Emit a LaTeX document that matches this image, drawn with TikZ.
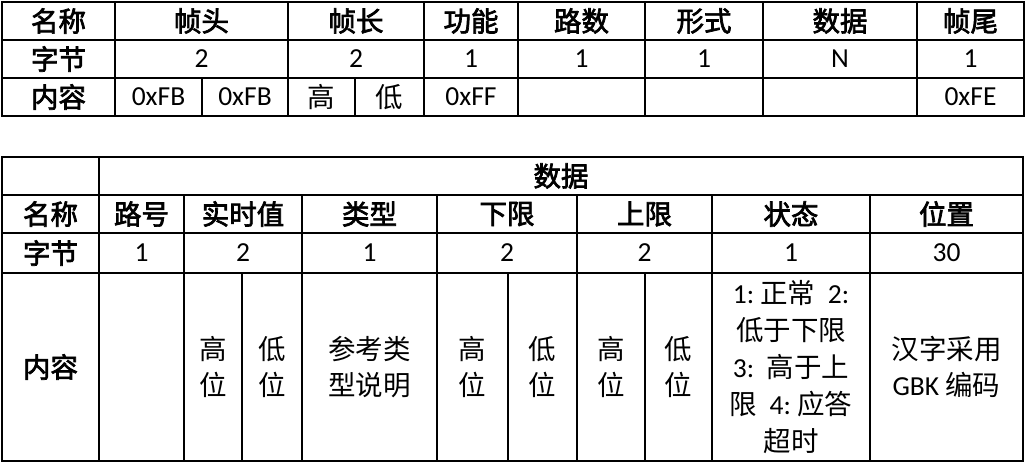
\documentclass[tikz,border=0pt]{standalone}
\usepackage{fontspec}
\setmainfont{Carlito}
\newfontfamily\cjk{Noto Sans CJK SC}
\newfontfamily\cjkb[FakeBold=2.5]{Noto Sans CJK SC}
\newcommand\zh[1]{{\cjk #1}}
\newcommand\zhb[1]{{\cjkb #1}}
\tikzset{
    cell/.style={draw, rectangle, line width=1.2pt, inner sep=0pt, outer sep=0pt,
        align=center, font=\fontsize{27.5}{36}\selectfont},
    toprow/.style={cell, minimum height=38pt},
    datarow/.style={cell, minimum height=40pt},
    bigrow/.style={cell, minimum height=188pt}
}
\begin{document}
\begin{tikzpicture}[x=1pt, y=-1pt]
    \useasboundingbox (0,0) rectangle (1026,462);

    % frame table
    \node[toprow, minimum width=113pt](fname) at (58.5,21) {\zhb{名称}};
    \node[toprow, minimum width=173pt](fhead) at (201.5,21) {\zhb{帧头}};
    \node[toprow, minimum width=136pt](flen) at (356,21) {\zhb{帧长}};
    \node[toprow, minimum width=94pt](ffunc) at (471,21) {\zhb{功能}};
    \node[toprow, minimum width=127pt](froute) at (581.5,21) {\zhb{路数}};
    \node[toprow, minimum width=118pt](fform) at (704,21) {\zhb{形式}};
    \node[toprow, minimum width=154pt](fdata) at (840,21) {\zhb{数据}};
    \node[toprow, minimum width=107pt](ftail) at (970.5,21) {\zhb{帧尾}};

    \node[toprow, minimum width=113pt](fbyte) at (58.5,59) {\zhb{字节}};
    \node[toprow, minimum width=173pt](fheadn) at (201.5,59) {2};
    \node[toprow, minimum width=136pt](flenn) at (356,59) {2};
    \node[toprow, minimum width=94pt](ffuncn) at (471,59) {1};
    \node[toprow, minimum width=127pt](frouten) at (581.5,59) {1};
    \node[toprow, minimum width=118pt](fformn) at (704,59) {1};
    \node[toprow, minimum width=154pt](fdatan) at (840,59) {N};
    \node[toprow, minimum width=107pt](ftailn) at (970.5,59) {1};

    \node[toprow, minimum width=113pt](fcont) at (58.5,97) {\zhb{内容}};
    \node[toprow, minimum width=87pt](fheada) at (158.5,97) {0xFB};
    \node[toprow, minimum width=86pt](fheadb) at (245,97) {0xFB};
    \node[toprow, minimum width=67pt](flenhi) at (321.5,97) {\zh{高}};
    \node[toprow, minimum width=69pt](flenlo) at (389.5,97) {\zh{低}};
    \node[toprow, minimum width=94pt](ffuncv) at (471,97) {0xFF};
    \node[toprow, minimum width=127pt](froutev) at (581.5,97) {};
    \node[toprow, minimum width=118pt](fformv) at (704,97) {};
    \node[toprow, minimum width=154pt](fdatav) at (840,97) {};
    \node[toprow, minimum width=107pt](ftailv) at (970.5,97) {0xFE};

    % data table
    \node[toprow, minimum width=97pt](dcorner) at (50.5,176) {};
    \node[toprow, minimum width=924pt](dtitle) at (561,176) {\zhb{数据}};

    \node[toprow, minimum width=97pt](dname) at (50.5,214) {\zhb{名称}};
    \node[toprow, minimum width=85pt](droute) at (141.5,214) {\zhb{路号}};
    \node[toprow, minimum width=118pt](dvalue) at (243,214) {\zhb{实时值}};
    \node[toprow, minimum width=135pt](dtype) at (369.5,214) {\zhb{类型}};
    \node[toprow, minimum width=140pt](dlow) at (507,214) {\zhb{下限}};
    \node[toprow, minimum width=135pt](dhigh) at (644.5,214) {\zhb{上限}};
    \node[toprow, minimum width=158pt](dstate) at (791,214) {\zhb{状态}};
    \node[toprow, minimum width=153pt](dplace) at (946.5,214) {\zhb{位置}};

    \node[datarow, minimum width=97pt](dbyte) at (50.5,253) {\zhb{字节}};
    \node[datarow, minimum width=85pt](drouten) at (141.5,253) {1};
    \node[datarow, minimum width=118pt](dvaluen) at (243,253) {2};
    \node[datarow, minimum width=135pt](dtypen) at (369.5,253) {1};
    \node[datarow, minimum width=140pt](dlown) at (507,253) {2};
    \node[datarow, minimum width=135pt](dhighn) at (644.5,253) {2};
    \node[datarow, minimum width=158pt](dstaten) at (791,253) {1};
    \node[datarow, minimum width=153pt](dplacen) at (946.5,253) {30};

    \node[bigrow, minimum width=97pt](dcont) at (50.5,367) {\zhb{内容}};
    \node[bigrow, minimum width=85pt](droutev) at (141.5,367) {};
    \node[bigrow, minimum width=58pt](dvaluehi) at (213,367) {\zh{高}\\\zh{位}};
    \node[bigrow, minimum width=60pt](dvaluelo) at (272,367) {\zh{低}\\\zh{位}};
    \node[bigrow, minimum width=135pt](dtypev) at (369.5,367) {\zh{参考类}\\\zh{型说明}};
    \node[bigrow, minimum width=71pt](dlowhi) at (472.5,367) {\zh{高}\\\zh{位}};
    \node[bigrow, minimum width=69pt](dlowlo) at (542.5,367) {\zh{低}\\\zh{位}};
    \node[bigrow, minimum width=68pt](dhighhi) at (611,367) {\zh{高}\\\zh{位}};
    \node[bigrow, minimum width=67pt](dhighlo) at (678.5,367) {\zh{低}\\\zh{位}};
    \node[bigrow, minimum width=158pt, font=\fontsize{27.5}{37}\selectfont](dstatev) at (791,367)
        {1:~\zh{正常}~~2:\\\zh{低于下限}\\3:~~\zh{高于上}\\\zh{限}~~4:~\zh{应答}\\\zh{超时}};
    \node[bigrow, minimum width=153pt](dplacev) at (946.5,367) {\zh{汉字采用}\\GBK~\zh{编码}};

\end{tikzpicture}
\end{document}
